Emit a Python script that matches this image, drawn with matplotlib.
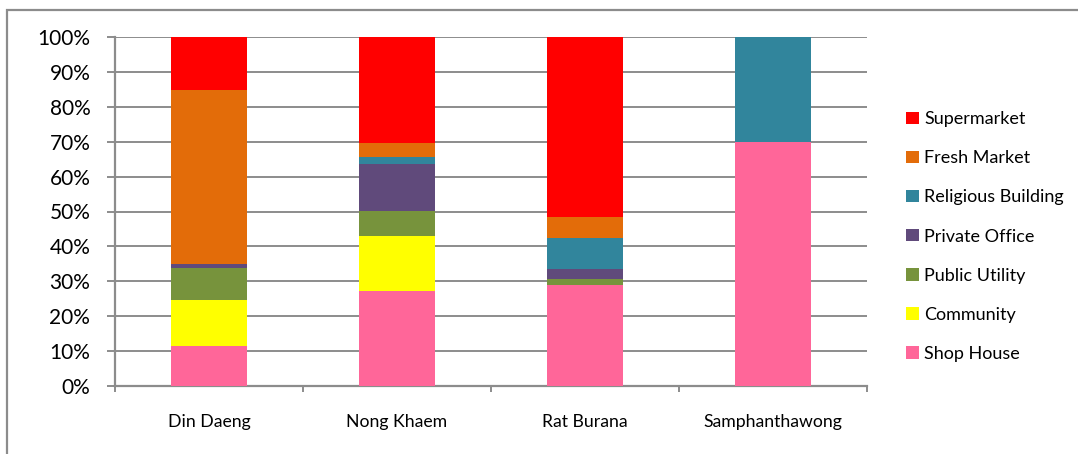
import matplotlib
matplotlib.use("Agg")
import matplotlib.pyplot as plt
from matplotlib.patches import Rectangle, Patch
from matplotlib.ticker import FixedLocator, PercentFormatter
import numpy as np

plt.rcParams['font.family'] = ['Lato', 'DejaVu Sans']

districts = ["Din Daeng", "Nong Khaem", "Rat Burana", "Samphanthawong"]

# Share of each land-use type per district (percent), stacked bottom to top
shop_house = [11.4, 27.2, 28.9, 70.0]
community = [13.2, 15.8, 0.0, 0.0]
public_utility = [9.2, 7.1, 1.7, 0.0]
private_office = [1.1, 13.5, 2.9, 0.0]
religious_building = [0.0, 2.0, 9.0, 30.0]
fresh_market = [49.9, 3.9, 5.9, 0.0]
supermarket = [15.2, 30.5, 51.6, 0.0]

series = [
    ("Shop House", shop_house, "#FF6699"),
    ("Community", community, "#FFFF00"),
    ("Public Utility", public_utility, "#77933C"),
    ("Private Office", private_office, "#604A7B"),
    ("Religious Building", religious_building, "#31859C"),
    ("Fresh Market", fresh_market, "#E36C09"),
    ("Supermarket", supermarket, "#FF0000"),
]

W, H = 1078, 454
fig = plt.figure(figsize=(W / 100, H / 100), dpi=100)
ax = fig.add_axes([115 / W, 1 - 386 / H, (867 - 115) / W, (386 - 37) / H])

grid_c = "#8C8C8C"
x = np.arange(len(districts))
bottom = np.zeros(len(districts))
handles = []
for name, vals, col in series:
    v = np.array(vals, dtype=float)
    ax.bar(x, v, width=0.40, bottom=bottom, color=col, edgecolor="none", zorder=3)
    bottom += v
    handles.append(Patch(facecolor=col, edgecolor="none", label=name))

ax.set_xlim(-0.5, len(districts) - 0.5)
ax.set_ylim(0, 100)
ax.yaxis.set_major_locator(FixedLocator(np.arange(0, 101, 10)))
ax.yaxis.set_major_formatter(PercentFormatter(decimals=0))
ax.grid(axis="y", color=grid_c, linewidth=1.4, zorder=0)

ax.set_xticks(x)
ax.set_xticklabels(districts, fontsize=12.7, color="#000000")
ax.set_xticks(np.arange(-0.5, len(districts)), minor=True)
ax.tick_params(axis="x", which="major", length=0, pad=20)
ax.tick_params(axis="x", which="minor", length=4.3, width=1.4, color=grid_c, direction="out")
ax.tick_params(axis="y", length=5.8, width=1.4, color=grid_c, labelsize=15, pad=12)

for side in ("top", "right"):
    ax.spines[side].set_visible(False)
for side in ("left", "bottom"):
    ax.spines[side].set_color(grid_c)
    ax.spines[side].set_linewidth(1.6)

leg = fig.legend(handles=handles[::-1], loc="upper left",
                 bbox_to_anchor=(899 / W, 1 - 104 / H), frameon=False,
                 fontsize=13, handlelength=0.68, handleheight=0.68,
                 handletextpad=0.32, labelspacing=1.28, borderaxespad=0)

# Chart-area frame (left and top edges fall inside the canvas)
fig.patches.append(Rectangle((7 / W, -0.1), 1.2, 1 - 10 / H + 0.1,
                             transform=fig.transFigure, fill=False,
                             edgecolor="#8C8C8C", linewidth=1.6))

fig.savefig("out.png", dpi=100)
